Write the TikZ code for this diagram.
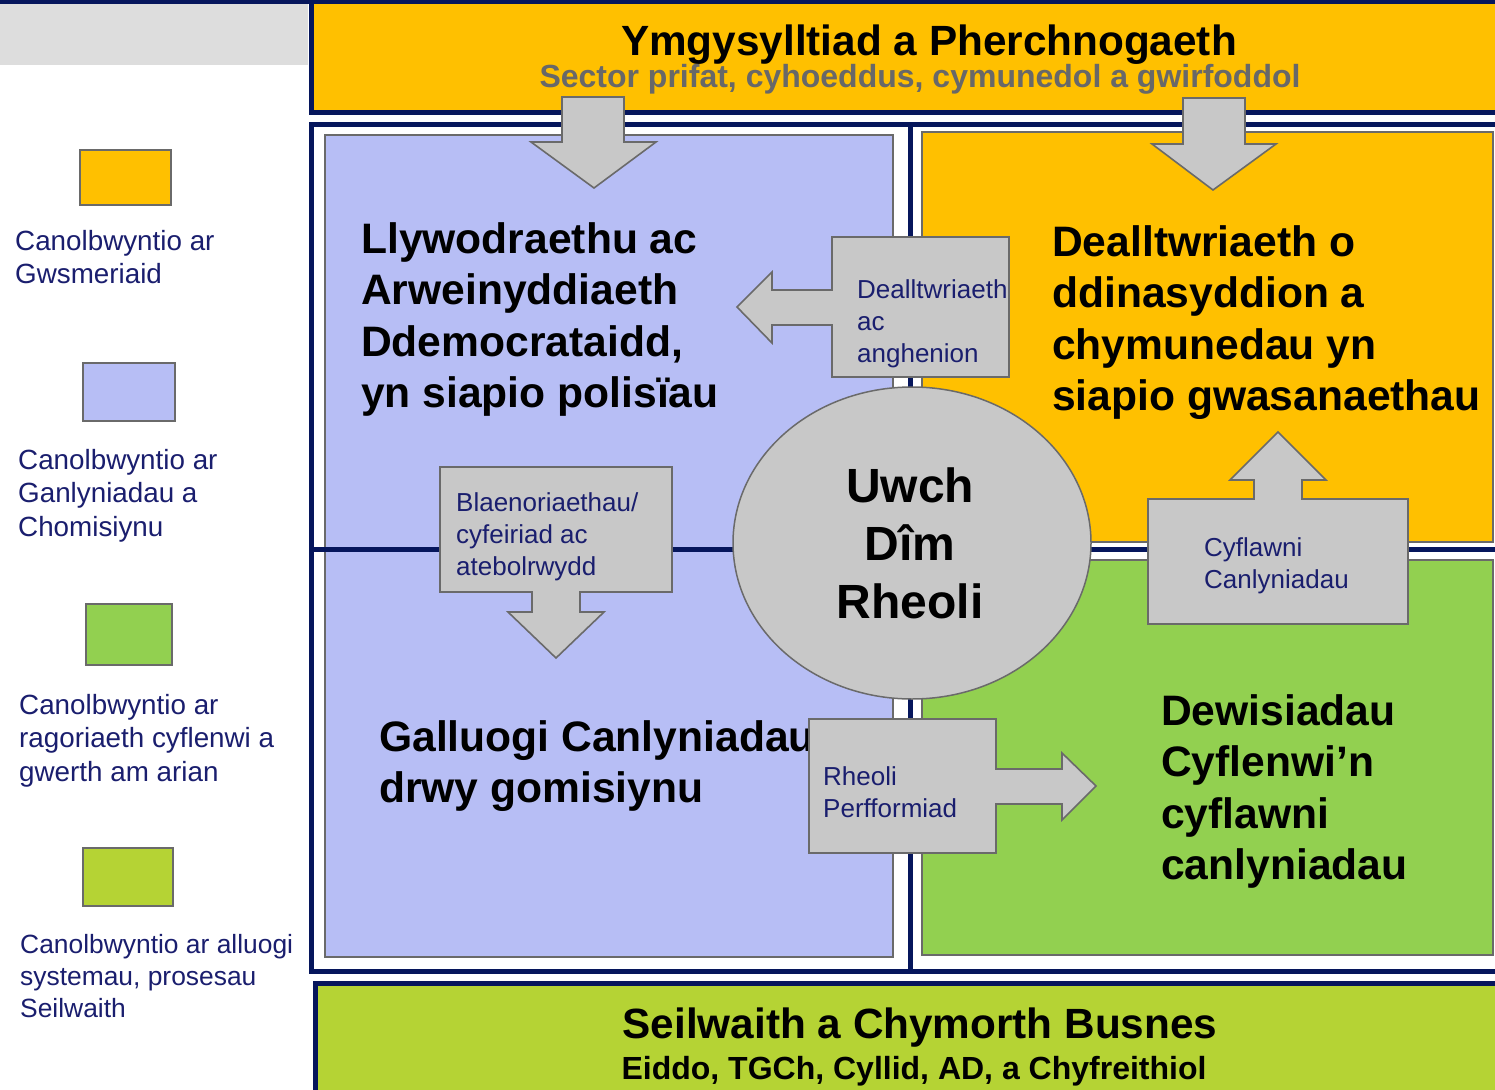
\documentclass[tikz,border=0pt]{standalone}
\usepackage{fontspec}
\setmainfont{Liberation Sans}
\definecolor{navy}{RGB}{6,22,92}
\definecolor{orangeY}{HTML}{FFC000}
\definecolor{lavender}{HTML}{B7BEF5}
\definecolor{leafgreen}{HTML}{92D050}
\definecolor{limegreen}{HTML}{B5D334}
\definecolor{calloutgray}{HTML}{C8C8C8}
\definecolor{edgegray}{HTML}{6A6A6A}
\definecolor{labelnavy}{RGB}{26,30,110}
\definecolor{headergray}{HTML}{DDDDDD}
\definecolor{subgray}{HTML}{686868}
\begin{document}
\begin{tikzpicture}[x=1pt,y=-1pt,
  callout/.style={fill=calloutgray,draw=edgegray,line width=1.6pt,line join=miter},
  panel/.style={draw=edgegray,line width=1.4pt},
  legendbox/.style={draw=edgegray,line width=1.8pt},
  divider/.style={draw=navy,line width=5pt},
  heading/.style={anchor=north west,inner sep=0,align=left,text=black,
    font=\bfseries\fontsize{42.6}{51.5}\selectfont},
  boxtext/.style={anchor=north west,inner sep=0,align=left,text=labelnavy,
    font=\fontsize{26}{32}\selectfont},
  legendtext/.style={anchor=north west,inner sep=0,align=left,text=labelnavy,
    font=\fontsize{27.8}{33.5}\selectfont},
  smalllegendtext/.style={anchor=north west,inner sep=0,align=left,text=labelnavy,
    font=\fontsize{26.4}{32}\selectfont},
  titletext/.style={anchor=base,inner sep=0,text=black,
    font=\bfseries\fontsize{42.3}{50}\selectfont},
  subtitletext/.style={anchor=base,inner sep=0,
    font=\bfseries\fontsize{32}{38}\selectfont}]
\useasboundingbox (0,0) rectangle (1495,1089);
\fill[white] (0,0) rectangle (1495,1089);

% header strip on the left
\fill[navy] (0,0) rectangle (1495,4);
\fill[headergray] (0,4) rectangle (308,65);

% top bar
\draw[navy,line width=5pt,fill=orangeY] (311.5,2) rectangle (1510,112.5);
\node[titletext] (toptitle) at (929,56) {Ymgysylltiad a Pherchnogaeth};
\node[subtitletext,text=subgray] (topsub) at (920,88) {Sector prifat, cyhoeddus, cymunedol a gwirfoddol};

% middle frame
\draw[navy,line width=5pt,fill=white] (311,124.5) rectangle (1510,971);

% quadrant panels
\draw[panel,fill=lavender] (325,135) rectangle (893,957);
\draw[panel,fill=orangeY] (922,132) rectangle (1493,542);
\draw[panel,fill=leafgreen] (922,560) rectangle (1493,955);

% dividers
\draw[divider] (311,549) -- (1510,549);
\draw[divider] (910,124.5) -- (910,971);

% bottom bar
\draw[navy,line width=5pt,fill=limegreen] (315.5,983) rectangle (1510,1100);
\node[titletext] (bottitle) at (920,1038) {Seilwaith a Chymorth Busnes};
\node[subtitletext,text=black] (botsub) at (914,1079) {Eiddo, TGCh, Cyllid, AD, a Chyfreithiol};

% quadrant headings
\node[heading] (govern) at (361,222) {Llywodraethu ac\\Arweinyddiaeth\\Ddemocrataidd,\\yn siapio polisïau};
\node[heading] (understand) at (1052,225) {Dealltwriaeth o\\ddinasyddion a\\chymunedau yn\\siapio gwasanaethau};
\node[heading] (enable) at (379,720) {Galluogi Canlyniadau\\drwy gomisiynu};
\node[heading] (deliver) at (1161,694) {Dewisiadau\\Cyflenwi’n\\cyflawni\\canlyniadau};

% arrows from top bar
\draw[callout] (562,97) -- (624,97) -- (624,142) -- (656,142) -- (594,188) -- (531,142) -- (562,142) -- cycle;
\draw[callout] (1183,98) -- (1245,98) -- (1245,144) -- (1276,144) -- (1213,190) -- (1152,144) -- (1183,144) -- cycle;

% callout boxes
\draw[callout] (832,237) -- (1009,237) -- (1009,377) -- (832,377) -- (832,325) -- (772,325) -- (772,343) -- (737,307) -- (772,272) -- (772,290) -- (832,290) -- cycle;
\node[boxtext] (needs) at (857,279) {Dealltwriaeth\\ac\\anghenion};

\draw[callout] (440,467) -- (672,467) -- (672,592) -- (580,592) -- (580,612) -- (604,612) -- (556,658) -- (508,612) -- (532,612) -- (532,592) -- (440,592) -- cycle;
\node[boxtext] (priorities) at (456,492) {Blaenoriaethau/\\cyfeiriad ac\\atebolrwydd};

\draw[callout] (1148,499) -- (1254,499) -- (1254,480) -- (1230,480) -- (1278,432) -- (1326,480) -- (1302,480) -- (1302,499) -- (1408,499) -- (1408,624) -- (1148,624) -- cycle;
\node[boxtext] (outcomes) at (1204,537) {Cyflawni\\Canlyniadau};

\draw[callout] (809,719) -- (996,719) -- (996,769) -- (1062,769) -- (1062,753) -- (1096,786) -- (1062,820) -- (1062,804) -- (996,804) -- (996,853) -- (809,853) -- cycle;
\node[boxtext] (perf) at (823,766) {Rheoli\\Perfformiad};

% central ellipse
\draw[callout,line width=1.5pt] (912,543) ellipse [x radius=179,y radius=156];
\node[anchor=north,inner sep=0,align=center,font=\bfseries\fontsize{48}{58}\selectfont] (smt) at (910,468) {Uwch\\Dîm\\Rheoli};

% legend
\draw[legendbox,fill=orangeY] (80,150) rectangle (171,205);
\node[legendtext] (leg1) at (15,230) {Canolbwyntio ar\\Gwsmeriaid};
\draw[legendbox,fill=lavender] (83,363) rectangle (175,421);
\node[legendtext] (leg2) at (18,449) {Canolbwyntio ar\\Ganlyniadau a\\Chomisiynu};
\draw[legendbox,fill=leafgreen] (86,604) rectangle (172,665);
\node[legendtext] (leg3) at (19,694) {Canolbwyntio ar\\ragoriaeth cyflenwi a\\gwerth am arian};
\draw[legendbox,fill=limegreen] (83,848) rectangle (173,906);
\node[smalllegendtext] (leg4) at (20,934) {Canolbwyntio ar alluogi\\systemau, prosesau\\Seilwaith};
\end{tikzpicture}
\end{document}
